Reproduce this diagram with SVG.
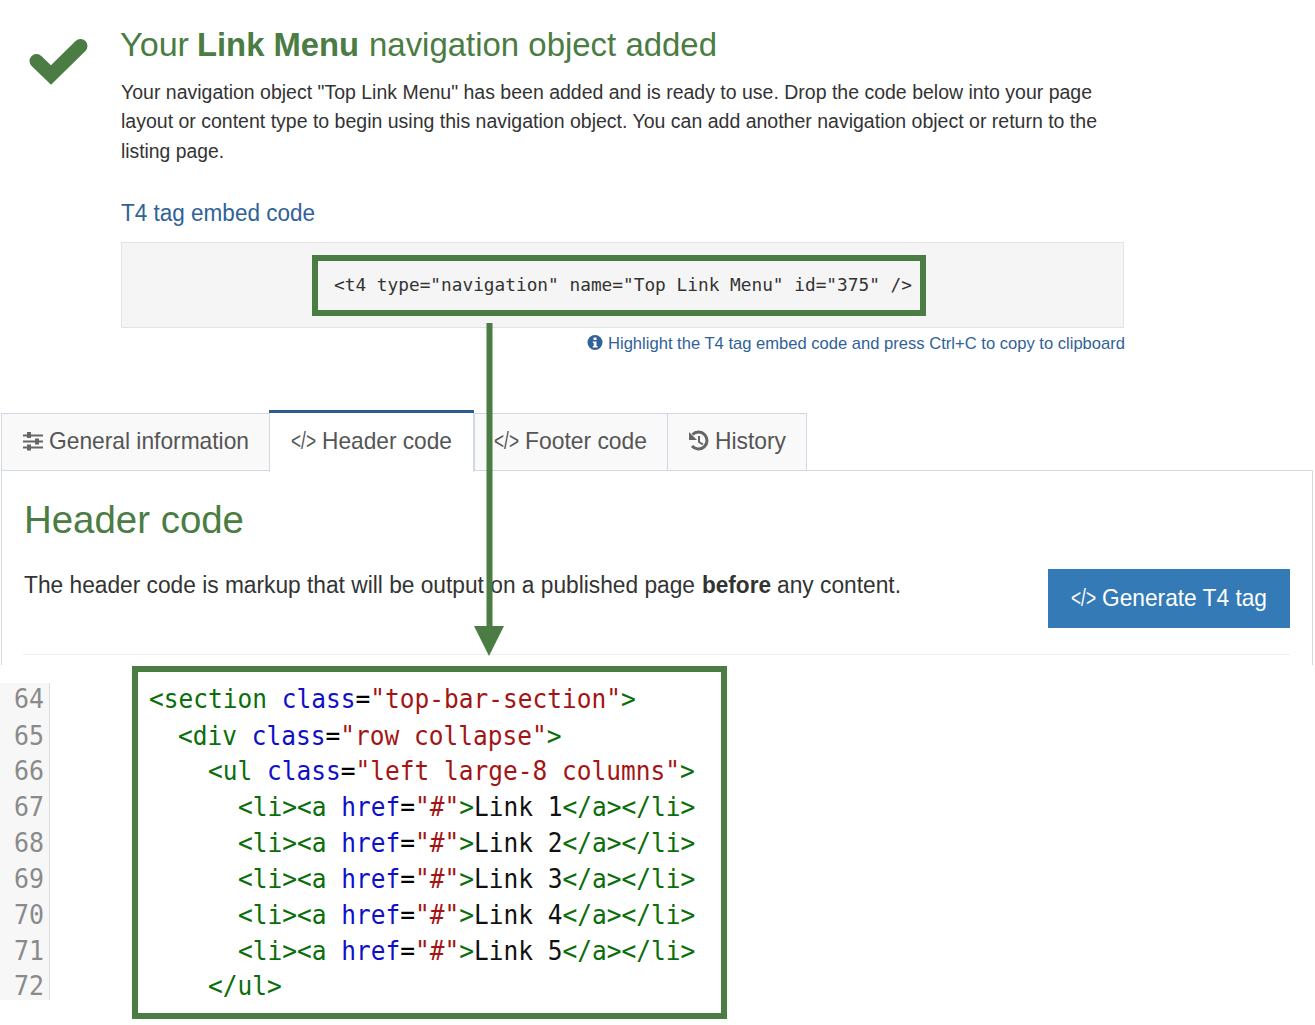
<svg xmlns="http://www.w3.org/2000/svg" width="1315" height="1025" viewBox="0 0 1315 1025">
<defs>
<style>
text{font-family:"Liberation Sans",Arial,sans-serif;white-space:pre}
.h1{font-size:33px;fill:#4a7c43}
.body{font-size:20px;fill:#333}
.link{font-size:23px;fill:#2f6299}
.tab{font-size:24px;fill:#555}
.mono{font-family:"DejaVu Sans Mono","Liberation Mono",monospace}
.t4{font-size:18.5px;fill:#333}
.code{font-size:27px;fill:#000}
.g{fill:#0a6e0a}.b{fill:#1010c8}.r{fill:#a31515}.e{fill:#111}
.num{font-size:27px;fill:#8a8a8a}
.box{fill:none;stroke:#4a7c43;stroke-width:6}
.tabbg{fill:#f9f9f9;stroke:#cfd8e3;stroke-width:1}
</style>
</defs>
<rect width="1315" height="1025" fill="#fff"/>
<g id="success-message">
<path d="M36.500 61L51 75L80.500 46" fill="none" stroke="#4a7c43" stroke-width="14" stroke-linejoin="miter" stroke-linecap="round"/>
<text class="h1" x="120" y="56" textLength="69" lengthAdjust="spacingAndGlyphs">Your</text>
<text class="h1" x="197" y="56" font-weight="700" textLength="162" lengthAdjust="spacingAndGlyphs">Link Menu</text>
<text class="h1" x="369" y="56" textLength="348" lengthAdjust="spacingAndGlyphs">navigation object added</text>
<text class="body" x="121" y="99" textLength="971" lengthAdjust="spacingAndGlyphs">Your navigation object "Top Link Menu" has been added and is ready to use. Drop the code below into your page</text>
<text class="body" x="121" y="128" textLength="976" lengthAdjust="spacingAndGlyphs">layout or content type to begin using this navigation object. You can add another navigation object or return to the</text>
<text class="body" x="121" y="158" textLength="103" lengthAdjust="spacingAndGlyphs">listing page.</text>
</g>
<g id="embed-code">
<text class="link" x="121" y="221" textLength="194" lengthAdjust="spacingAndGlyphs">T4 tag embed code</text>
<rect x="121.500" y="242.500" width="1002" height="85" fill="#f5f5f5" stroke="#e3e3e3"/>
<rect class="box" x="315" y="258" width="608" height="55"/>
<text class="mono t4" x="334" y="291" textLength="578" lengthAdjust="spacingAndGlyphs">&lt;t4 type="navigation" name="Top Link Menu" id="375" /&gt;</text>
<circle cx="595" cy="342.500" r="7.500" fill="#2f6299"/>
<path d="M593.500 337.500h3v2.500h-3zM592.800 341.500h3.700v4.500h1v1.500h-4.700v-1.500h1v-3h-1z" fill="#fff"/>
<text x="608" y="349" font-size="17" fill="#2f6299" textLength="517" lengthAdjust="spacingAndGlyphs">Highlight the T4 tag embed code and press Ctrl+C to copy to clipboard</text>
</g>
<g id="tabs">
<path d="M1.500 665V470.500H1312.500V665" fill="none" stroke="#cfd8e3"/>
<rect class="tabbg" x="1.500" y="413.500" width="268" height="57"/>
<rect class="tabbg" x="474.500" y="413.500" width="193" height="57"/>
<rect class="tabbg" x="667.500" y="413.500" width="139" height="57"/>
<rect x="269.500" y="412" width="204" height="60" fill="#fff"/>
<path d="M269.500 472V412M473.500 412V472" fill="none" stroke="#cfd8e3"/>
<rect x="269" y="410" width="205" height="3" fill="#2f5b92"/>
<g id="tab-general">
<path d="M23 435.500H43M23 441.500H43M23 447.500H43" stroke="#666" stroke-width="2"/>
<rect x="27" y="432" width="4" height="6" fill="#666"/><rect x="35" y="438.500" width="4" height="6" fill="#666"/><rect x="27" y="444.500" width="4" height="6" fill="#666"/>
<text class="tab" x="49" y="449" textLength="200" lengthAdjust="spacingAndGlyphs">General information</text>
</g>
<g id="tab-header">
<text class="tab" transform="translate(291 449) scale(.72 1)">&lt;/&gt;</text>
<text class="tab" x="322" y="449" textLength="130" lengthAdjust="spacingAndGlyphs">Header code</text>
</g>
<g id="tab-footer">
<text class="tab" transform="translate(494 449) scale(.72 1)">&lt;/&gt;</text>
<text class="tab" x="525" y="449" textLength="122" lengthAdjust="spacingAndGlyphs">Footer code</text>
</g>
<g id="tab-history">
<path d="M692.500 434.500A8.500 8.500 0 1 1 692 446" fill="none" stroke="#666" stroke-width="3"/>
<path d="M689 432V440H697Z" fill="#666"/>
<path d="M699 436V442L703 444.500" fill="none" stroke="#666" stroke-width="2"/>
<text class="tab" x="715" y="449" textLength="71" lengthAdjust="spacingAndGlyphs">History</text>
</g>
</g>
<g id="header-panel">
<text x="24" y="533" font-size="39" fill="#4a7c43" textLength="220" lengthAdjust="spacingAndGlyphs">Header code</text>
<text x="24" y="593" font-size="23" fill="#333" textLength="671" lengthAdjust="spacingAndGlyphs">The header code is markup that will be output on a published page</text>
<text x="702" y="593" font-size="23" font-weight="700" fill="#333" textLength="69" lengthAdjust="spacingAndGlyphs">before</text>
<text x="777" y="593" font-size="23" fill="#333" textLength="124" lengthAdjust="spacingAndGlyphs">any content.</text>
<rect x="1048" y="569" width="242" height="59" fill="#337ab7"/>
<text font-size="24" fill="#fff" transform="translate(1071 606) scale(.72 1)">&lt;/&gt;</text>
<text x="1102" y="606" font-size="24" fill="#fff" textLength="165" lengthAdjust="spacingAndGlyphs">Generate T4 tag</text>
<rect x="23" y="654" width="1267" height="1" fill="#eee"/>
</g>
<rect x="0" y="665" width="1315" height="360" fill="#fff"/>
<g id="code-gutter">
<rect x="0" y="683" width="50" height="317" fill="#f7f7f7"/>
<rect x="49" y="683" width="1" height="317" fill="#ddd"/>
<text class="mono num" x="14" y="708" textLength="30" lengthAdjust="spacingAndGlyphs">64</text>
<text class="mono num" x="14" y="745" textLength="30" lengthAdjust="spacingAndGlyphs">65</text>
<text class="mono num" x="14" y="780" textLength="30" lengthAdjust="spacingAndGlyphs">66</text>
<text class="mono num" x="14" y="816" textLength="30" lengthAdjust="spacingAndGlyphs">67</text>
<text class="mono num" x="14" y="852" textLength="30" lengthAdjust="spacingAndGlyphs">68</text>
<text class="mono num" x="14" y="888" textLength="30" lengthAdjust="spacingAndGlyphs">69</text>
<text class="mono num" x="14" y="924" textLength="30" lengthAdjust="spacingAndGlyphs">70</text>
<text class="mono num" x="14" y="960" textLength="30" lengthAdjust="spacingAndGlyphs">71</text>
<text class="mono num" x="14" y="995" textLength="30" lengthAdjust="spacingAndGlyphs">72</text>
</g>
<g id="code-block">
<rect class="box" x="135" y="669" width="589" height="347"/>
<text class="mono code" transform="translate(149 708) scale(.908 1)"><tspan class="g">&lt;section</tspan> <tspan class="b">class</tspan>=<tspan class="r">"top-bar-section"</tspan><tspan class="g">&gt;</tspan></text>
<text class="mono code" transform="translate(178 745) scale(.908 1)"><tspan class="g">&lt;div</tspan> <tspan class="b">class</tspan>=<tspan class="r">"row collapse"</tspan><tspan class="g">&gt;</tspan></text>
<text class="mono code" transform="translate(208 780) scale(.908 1)"><tspan class="g">&lt;ul</tspan> <tspan class="b">class</tspan>=<tspan class="r">"left large-8 columns"</tspan><tspan class="g">&gt;</tspan></text>
<text class="mono code" transform="translate(238 816) scale(.908 1)"><tspan class="g">&lt;li&gt;&lt;a</tspan> <tspan class="b">href</tspan>=<tspan class="r">"#"</tspan><tspan class="g">&gt;</tspan><tspan class="e">Link 1</tspan><tspan class="g">&lt;/a&gt;&lt;/li&gt;</tspan></text>
<text class="mono code" transform="translate(238 852) scale(.908 1)"><tspan class="g">&lt;li&gt;&lt;a</tspan> <tspan class="b">href</tspan>=<tspan class="r">"#"</tspan><tspan class="g">&gt;</tspan><tspan class="e">Link 2</tspan><tspan class="g">&lt;/a&gt;&lt;/li&gt;</tspan></text>
<text class="mono code" transform="translate(238 888) scale(.908 1)"><tspan class="g">&lt;li&gt;&lt;a</tspan> <tspan class="b">href</tspan>=<tspan class="r">"#"</tspan><tspan class="g">&gt;</tspan><tspan class="e">Link 3</tspan><tspan class="g">&lt;/a&gt;&lt;/li&gt;</tspan></text>
<text class="mono code" transform="translate(238 924) scale(.908 1)"><tspan class="g">&lt;li&gt;&lt;a</tspan> <tspan class="b">href</tspan>=<tspan class="r">"#"</tspan><tspan class="g">&gt;</tspan><tspan class="e">Link 4</tspan><tspan class="g">&lt;/a&gt;&lt;/li&gt;</tspan></text>
<text class="mono code" transform="translate(238 960) scale(.908 1)"><tspan class="g">&lt;li&gt;&lt;a</tspan> <tspan class="b">href</tspan>=<tspan class="r">"#"</tspan><tspan class="g">&gt;</tspan><tspan class="e">Link 5</tspan><tspan class="g">&lt;/a&gt;&lt;/li&gt;</tspan></text>
<text class="mono code" transform="translate(208 995) scale(.908 1)"><tspan class="g">&lt;/ul&gt;</tspan></text>
</g>
<g id="connectors">
<path d="M489.500 323V628" fill="none" stroke="#4a7c43" stroke-width="6"/>
<path d="M474 626H504L489 656Z" fill="#4a7c43"/>
</g>
</svg>
